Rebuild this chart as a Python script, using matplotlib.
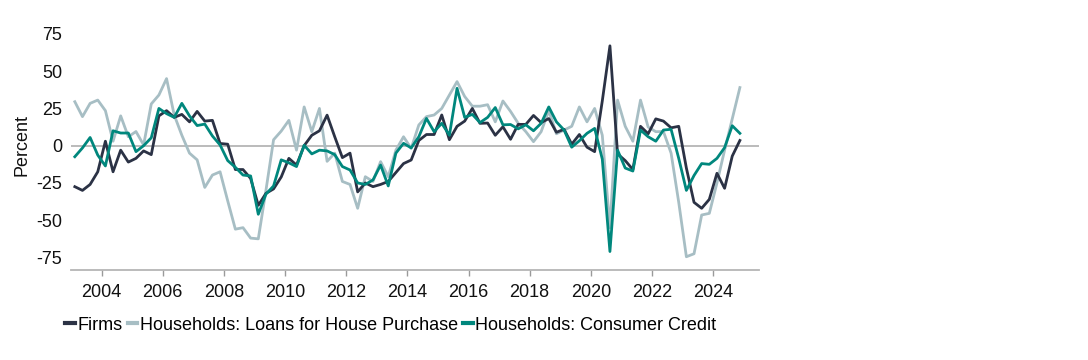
import matplotlib
matplotlib.use("Agg")
import matplotlib.pyplot as plt
import numpy as np

start_year = 2003
quarters = 88

firms = [-27.5, -30, -26, -17.5, 3, -17.5, -3, -11, -8.5, -3.5, -6, 20,
         23.5, 19, 21, 16, 23, 16.5, 17, 1.5, 1, -16, -16, -22,
         -40, -32, -29, -21, -8.5, -13, 0, 7, 10, 20.5, 6, -8,
         -5, -31, -25, -27.5, -26, -24, -18, -12, -9.6, 3.5, 7.5, 7.5,
         20.6, 4, 13, 16.5, 25, 15, 15.2, 7, 12.7, 4.3, 14.3, 14.3,
         20.3, 15.5, 18.2, 9, 11, 1, 7.5, -1, -4, 30, 67, -5.5,
         -10, -16, 13, 8, 18, 16.5, 12, 13, -15, -38, -42, -36,
         -18.5, -28.6, -7, 3.5]

house = [29.5, 19.5, 28.4, 30.6, 23.5, 3, 20, 6, 9.5, 0.5, 28, 34,
         45, 20.6, 7, -5, -9.5, -28, -19.7, -17.5, -37, -56, -55, -62,
         -62.5, -30, 4, 9.8, 17, -3, 26, 9.4, 25, -10.5, -5, -24,
         -26, -42, -20.8, -24, -10.7, -20.8, -3, 6, -1.8, 13.9, 19.5, 20.6,
         25, 34, 43, 33, 26.5, 26.5, 27.5, 16, 30, 23, 15, 9.4,
         2.7, 9.4, 23.5, 8, 10.5, 13, 26, 16, 25, 7, -55, 30.6,
         13, 3, 30.6, 12.5, 9.4, 9.5, -5, -38, -74.5, -72.5, -46.5, -45.4,
         -25, -3, 18, 39]

consumer = [-7.4, -1.5, 5.5, -6.3, -13.6, 10, 8.5, 8.5, -4, 0, 5.3, 25,
            21.5, 19, 28.4, 20, 13.5, 14.5, 6.5, 0.5, -10, -14.5, -19.7, -20.3,
            -46, -32.5, -27, -9.5, -11.5, -14, 0.3, -5.5, -3, -3.5, -6, -14,
            -16.3, -25, -26, -23, -13, -27, -5, 1.6, -1.5, 6, 18.3, 9.4,
            15, 7, 38.5, 19, 21, 15.5, 19, 25.6, 14, 14.2, 11.3, 14,
            10, 15, 26, 16, 10.5, -1, 3.3, 8.3, 11.6, -9, -71, -3,
            -15, -17, 10.5, 6, 3, 10.5, 11, -8.5, -30, -20, -12, -12.5,
            -8.5, -1.3, 13.4, 8.3]

series_names = ["Firms", "Households: Loans for House Purchase",
                "Households: Consumer Credit"]
colors = ["#2b3245", "#a7bec4", "#00877d"]

yticks = [-75, -50, -25, 0, 25, 50, 75]
xtick_years = list(range(2004, 2025, 2))

x = start_year + np.arange(quarters) / 4.0 + 0.125

plt.rcParams['font.family'] = ['Liberation Sans', 'DejaVu Sans']
plt.rcParams['axes.unicode_minus'] = False

fig = plt.figure(figsize=(10.88, 3.6), dpi=100)
ax = fig.add_axes([71/1088, 90/360, (759-71)/1088, (270-19)/360])

ax.axhline(0, color="#b5b5b5", lw=1.3, zorder=1)
for vals, name, c in zip([firms, house, consumer], series_names, colors):
    ax.plot(x, vals, color=c, lw=2.0, label=name, zorder=3 if c != colors[1] else 2)

ax.set_xlim(2003.0, 2025.5)
ax.set_ylim(-83.4, 85)
ax.set_yticks(yticks)
ax.set_xticks(xtick_years)
ax.set_xticklabels([str(y) for y in xtick_years])

for s in ["top", "right", "left"]:
    ax.spines[s].set_visible(False)
ax.spines["bottom"].set_color("#b5b5b5")
ax.spines["bottom"].set_linewidth(1.3)

ax.tick_params(axis="y", length=0, pad=6.5, labelsize=13, labelcolor="#111111")
ax.tick_params(axis="x", length=4, width=1, color="#9a9a9a", pad=6,
               labelsize=13, labelcolor="#111111")
ax.set_ylabel("Percent", fontsize=13, labelpad=4, color="#111111")

leg = fig.legend(loc="center left", bbox_to_anchor=(58/1088, 35/360), ncol=3,
                 frameon=False, fontsize=13, handlelength=0.55,
                 handletextpad=0.15, columnspacing=0.25, borderaxespad=0)
for line in leg.get_lines():
    line.set_linewidth(3)

fig.savefig("out.png", dpi=100)
